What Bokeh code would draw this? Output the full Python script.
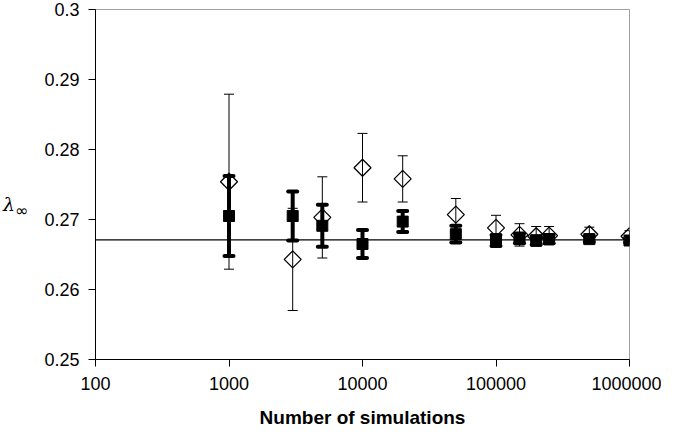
import math
from bokeh.plotting import figure
from bokeh.layouts import row
from bokeh.models import ColumnDataSource, Whisker, TeeHead, Span, FixedTicker, Div
from bokeh.embed import file_html
from bokeh.resources import INLINE

# ---- data ----
n_sims = [1000, 3000, 5000, 10000, 20000, 50000, 100000, 150000, 200000, 250000, 500000, 1000000]

open_vals = [0.2754, 0.2643, 0.2703, 0.2774, 0.2758, 0.2707, 0.2688, 0.2678, 0.2676, 0.2677, 0.2679, 0.2676]
open_err = [0.0125, 0.0073, 0.0058, 0.0049, 0.0033, 0.0023, 0.0018, 0.0016, 0.0014, 0.0013, 0.0010, 0.0008]

filled_vals = [0.2705, 0.2705, 0.2691, 0.2665, 0.2697, 0.2679, 0.2670, 0.2673, 0.2670, 0.2672, 0.2672, 0.2670]
filled_err = [0.0057, 0.0035, 0.0030, 0.0020, 0.0015, 0.0012, 0.0008, 0.0007, 0.0006, 0.0006, 0.0004, 0.0003]

reference_value = 0.2671

x_ticks = [100, 1000, 10000, 100000, 1000000]
x_tick_labels = ["100", "1000", "10000", "100000", "1000000"]
y_ticks = [0.25, 0.26, 0.27, 0.28, 0.29, 0.30]
y_tick_labels = ["0.25", "0.26", "0.27", "0.28", "0.29", "0.3"]
y_label_main = "λ"
y_label_sub = "∞"
x_label = "Number of simulations"

FONT = "Liberation Sans"

src_open = ColumnDataSource(dict(
    x=n_sims, y=open_vals,
    upper=[v + e for v, e in zip(open_vals, open_err)],
    lower=[v - e for v, e in zip(open_vals, open_err)],
))
src_filled = ColumnDataSource(dict(
    x=n_sims, y=filled_vals,
    upper=[v + e for v, e in zip(filled_vals, filled_err)],
    lower=[v - e for v, e in zip(filled_vals, filled_err)],
))

p = figure(
    x_axis_type="log", x_range=(100, 1000000), y_range=(0.25, 0.30),
    frame_width=534, frame_height=350,
    min_border_left=55, min_border_right=32, min_border_top=9, min_border_bottom=66,
    output_backend="svg", toolbar_location=None,
    background_fill_color="white", border_fill_color="white",
)
p.grid.visible = False
p.outline_line_color = "#a0a0a0"
p.outline_line_width = 1

span = Span(location=reference_value, dimension="width", line_color="black", line_width=1.2, level="underlay")
p.add_layout(span)

w_open = Whisker(source=src_open, base="x", upper="upper", lower="lower", dimension="height",
                 line_color="black", line_width=1,
                 upper_head=TeeHead(size=10, line_width=1, line_color="black"),
                 lower_head=TeeHead(size=10, line_width=1, line_color="black"))
p.add_layout(w_open)
w_filled = Whisker(source=src_filled, base="x", upper="upper", lower="lower", dimension="height",
                   line_color="black", line_width=4,
                   upper_head=TeeHead(size=9, line_width=4, line_color="black", line_cap="round"),
                   lower_head=TeeHead(size=9, line_width=4, line_color="black", line_cap="round"))
p.add_layout(w_filled)

p.scatter("x", "y", source=src_open, marker="square", angle=math.pi / 4, size=12,
          fill_color=None, line_color="black", line_width=1.3)
p.scatter("x", "y", source=src_filled, marker="square", size=11,
          fill_color="black", line_color="black")

for ax in (p.xaxis[0], p.yaxis[0]):
    ax.axis_line_color = "black"
    ax.axis_line_width = 1
    ax.major_tick_line_color = "black"
    ax.major_tick_out = 7
    ax.major_tick_in = 0
    ax.minor_tick_line_color = None
    ax.major_label_text_font = FONT
    ax.major_label_text_font_size = "18px"
    ax.major_label_text_color = "black"

p.xaxis.ticker = FixedTicker(ticks=x_ticks)
p.xaxis.major_label_overrides = {t: l for t, l in zip(x_ticks, x_tick_labels)}
p.xaxis.major_label_standoff = 10
p.xaxis.axis_label = x_label
p.xaxis.axis_label_text_font = FONT
p.xaxis.axis_label_text_font_style = "bold"
p.xaxis.axis_label_text_font_size = "19px"
p.xaxis.axis_label_text_color = "black"
p.xaxis.axis_label_standoff = 14

p.yaxis.ticker = FixedTicker(ticks=y_ticks)
p.yaxis.major_label_overrides = {t: l for t, l in zip(y_ticks, y_tick_labels)}
p.yaxis.major_label_standoff = 9

# horizontal y-axis label (lambda with subscript infinity) placed left of the axis
ylab_html = (
    '<div style="padding-top:194px;padding-left:3px;line-height:20px;white-space:nowrap;color:black;">'
    '<span style="font-family:\'DejaVu Serif\';font-style:italic;font-size:19px;">' + y_label_main + '</span>'
    '<span style="font-family:\'DejaVu Sans\';font-size:16px;vertical-align:-5px;">' + y_label_sub + '</span>'
    '</div>'
)
ylab = Div(text=ylab_html, width=40, height=425, margin=0, styles={"overflow": "visible"})

layout = row(ylab, p, spacing=0)

open("out.html", "w").write(file_html(layout, INLINE))
